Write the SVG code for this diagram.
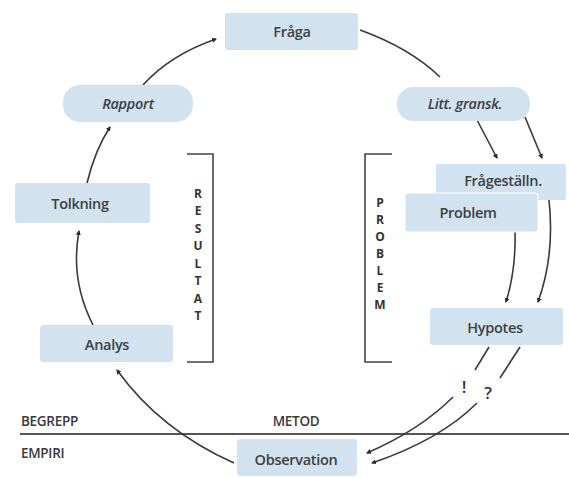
<svg xmlns="http://www.w3.org/2000/svg" width="569" height="477" viewBox="0 0 569 477">
<style>
.box{fill:#d3e2ef;}
.t{font-family:"Open Sans","Noto Sans",sans-serif;font-size:14.5px;font-weight:600;fill:#3a3f48;text-anchor:middle;dominant-baseline:central;letter-spacing:-0.3px;}
.i{font-style:italic;}
.lbl{font-family:"Open Sans","Noto Sans",sans-serif;font-size:13.5px;font-weight:600;fill:#3a3a3a;letter-spacing:-0.3px;}
.v{font-family:"Open Sans","Noto Sans",sans-serif;font-size:12px;font-weight:700;fill:#333;text-anchor:middle;dominant-baseline:central;}
.c{fill:none;stroke:#3a3a3a;stroke-width:1.6;}
.br{fill:none;stroke:#444;stroke-width:1.6;}
.mk{font-family:"Open Sans","Noto Sans",sans-serif;font-size:17px;font-weight:600;fill:#333;text-anchor:middle;dominant-baseline:central;}
</style>
<defs>
<marker id="ah" viewBox="0 0 10 10" refX="8" refY="5" markerWidth="5" markerHeight="5" orient="auto" markerUnits="userSpaceOnUse">
<path d="M0,0 L10,5 L0,10 z" fill="#2a2a2a"/>
</marker>
</defs>
<rect width="569" height="477" fill="#ffffff"/>

<g id="brackets">
<path class="br" d="M187,154 H213 V362 H187"/>
<g class="v">
<text x="198" y="193">R</text><text x="198" y="210.5">E</text><text x="198" y="228">S</text><text x="198" y="245.5">U</text><text x="198" y="263">L</text><text x="198" y="280.5">T</text><text x="198" y="298">A</text><text x="198" y="315.5">T</text>
</g>
<path class="br" d="M392,154 H365 V362 H392"/>
<g class="v">
<text x="380" y="202">P</text><text x="380" y="219">R</text><text x="380" y="236">O</text><text x="380" y="253">B</text><text x="380" y="270">L</text><text x="380" y="287">E</text><text x="380" y="304">M</text>
</g>
</g>

<g id="divider">
<line x1="20" y1="434" x2="569" y2="434" stroke="#555" stroke-width="1.8"/>
<text class="lbl" x="21" y="426">BEGREPP</text>
<text class="lbl" x="21" y="458">EMPIRI</text>
<text class="lbl" x="296" y="426" text-anchor="middle">METOD</text>
</g>

<g id="connectors">
<path class="c" d="M360,30 Q410,48 440,77"/>
<path class="c" d="M143,85 Q170,55 216,39" marker-end="url(#ah)"/>
<path class="c" d="M87,183 Q95,150 110,127" marker-end="url(#ah)"/>
<path class="c" d="M93,325 Q70,280 79,231" marker-end="url(#ah)"/>
<path class="c" d="M234,463 Q160,430 117,370" marker-end="url(#ah)"/>
<path class="c" d="M477,120 L497,158" marker-end="url(#ah)"/>
<path class="c" d="M525,117 L542,158" marker-end="url(#ah)"/>
<path class="c" d="M515,232 Q516,270 506,302" marker-end="url(#ah)"/>
<path class="c" d="M549,200 Q555,255 538,302" marker-end="url(#ah)"/>
<path class="c" d="M489,347 L475,370"/>
<path class="c" d="M453,397 Q420,430 367,453" marker-end="url(#ah)"/>
<path class="c" d="M520,347 L500,378"/>
<path class="c" d="M477,403 Q440,440 372,463" marker-end="url(#ah)"/>
<text class="mk" x="464" y="386">!</text>
<text class="mk" x="488" y="392">?</text>
</g>

<g id="n-fraga"><rect class="box" x="225" y="13" width="133" height="37" rx="3"/><text class="t" x="292" y="31">Fråga</text></g>
<g id="n-litt"><rect class="box" x="397" y="87" width="133" height="34" rx="16"/><text class="t i" x="465" y="103">Litt. gransk.</text></g>
<g id="n-fragestalln"><rect class="box" x="436" y="164" width="130" height="36" rx="2"/><text class="t" x="503" y="180">Frågeställn.</text></g>
<g id="n-problem"><rect class="box" x="405" y="193" width="133" height="39" rx="3" stroke="#ffffff" stroke-width="1"/><text class="t" x="468" y="212">Problem</text></g>
<g id="n-hypotes"><rect class="box" x="430" y="308" width="133" height="37" rx="3"/><text class="t" x="495" y="327">Hypotes</text></g>
<g id="n-observation"><rect class="box" x="237" y="439" width="120" height="37" rx="4"/><text class="t" x="296" y="459">Observation</text></g>
<g id="n-analys"><rect class="box" x="40" y="325" width="133" height="37" rx="3"/><text class="t" x="107" y="344">Analys</text></g>
<g id="n-tolkning"><rect class="box" x="15" y="183" width="135" height="40" rx="3"/><text class="t" x="80" y="203">Tolkning</text></g>
<g id="n-rapport"><rect class="box" x="63" y="85" width="130" height="37" rx="17"/><text class="t i" x="128" y="103">Rapport</text></g>
</svg>
